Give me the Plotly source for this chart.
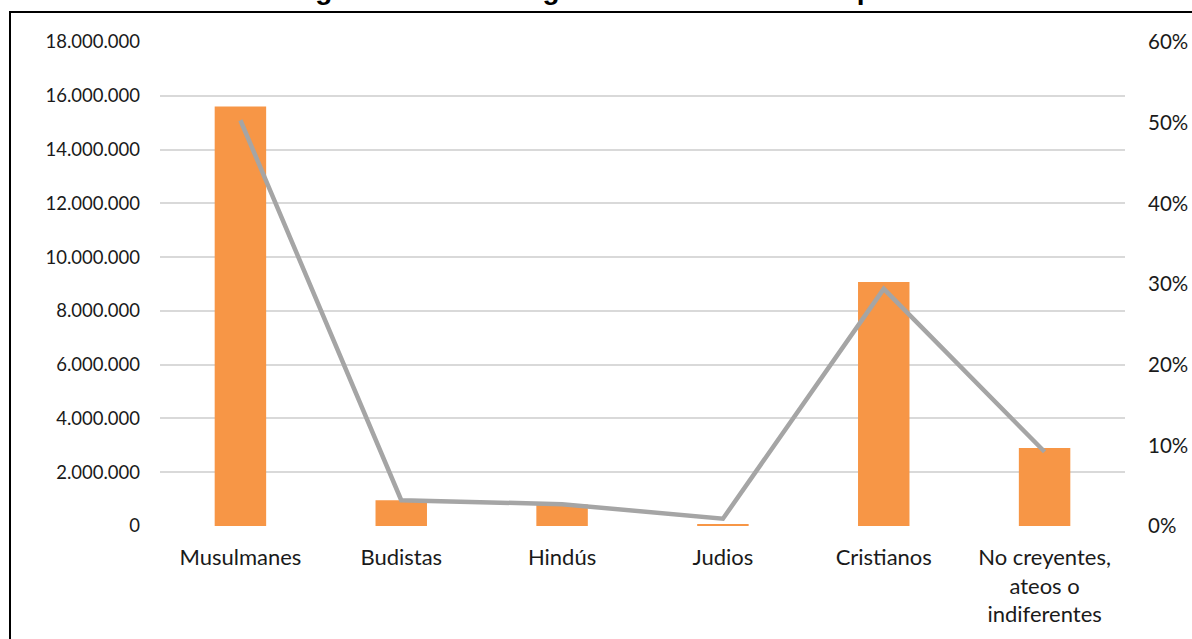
import plotly.graph_objects as go

# Religious affiliation of immigrants: headcount (bars) and share (line)
categorias = ["Musulmanes", "Budistas", "Hindús", "Judios", "Cristianos",
              "No creyentes,<br>ateos o<br>indiferentes"]
personas = [15600000, 960000, 800000, 70000, 9070000, 2900000]
porcentaje = [50.3, 3.2, 2.7, 0.9, 29.4, 9.2]

titulo = "Gráfico 3. Filiación religiosa de los inmigrantes a la Unión Europea"

W, H = 1192, 639
L, R, T, B = 160, 67, 42, 113
pw, ph = W - L - R, H - T - B

def px_x(x):
    return (x - L) / pw

def px_y(y):
    return (H - B - y) / ph

font_family = "Lato, 'Open Sans', sans-serif"
ink = "#1a1a1a"

fig = go.Figure()
fig.add_trace(go.Bar(
    x=categorias, y=personas, marker=dict(color="#F79646", line=dict(width=0)),
    yaxis="y", showlegend=False, hoverinfo="x+y",
))
fig.add_trace(go.Scatter(
    x=categorias, y=porcentaje, mode="lines", yaxis="y2",
    line=dict(color="#A5A5A5", width=4.5), showlegend=False,
))

fig.update_layout(
    width=W, height=H,
    margin=dict(l=L, r=R, t=T, b=B, pad=0),
    paper_bgcolor="white", plot_bgcolor="white",
    separators=",.",
    bargap=0.68,
    font=dict(family=font_family, size=20, color=ink),
    xaxis=dict(
        showgrid=False, showline=False, zeroline=False, ticks="",
        tickfont=dict(family=font_family, size=22, color=ink),
        ticklabelstandoff=16, automargin=False,
    ),
    yaxis=dict(
        range=[0, 18000000], dtick=2000000, tickformat=",d",
        showgrid=True, gridcolor="#D9D9D9", gridwidth=1.5,
        zeroline=False, showline=False, ticks="",
        tickfont=dict(family=font_family, size=18.5, color=ink),
        ticklabelstandoff=19, automargin=False,
    ),
    yaxis2=dict(
        range=[0, 60], dtick=10, ticksuffix="%", overlaying="y", side="right",
        showgrid=False, zeroline=False, showline=False, ticks="",
        tickfont=dict(family=font_family, size=20.5, color=ink),
        ticklabelstandoff=22, automargin=False,
    ),
    shapes=[dict(
        type="rect", xref="paper", yref="paper",
        x0=px_x(10), x1=px_x(W + 20), y0=px_y(H + 20), y1=px_y(12),
        line=dict(color="black", width=2), fillcolor="rgba(0,0,0,0)",
        layer="above",
    )],
    annotations=[dict(
        text="<b>" + titulo + "</b>", xref="paper", yref="paper",
        x=px_x(13), y=px_y(7.5), xanchor="left", yanchor="bottom",
        showarrow=False,
        font=dict(family="Liberation Sans, Arial, sans-serif", size=28, color="black"),
    )],
)

fig.write_html("out.html")
